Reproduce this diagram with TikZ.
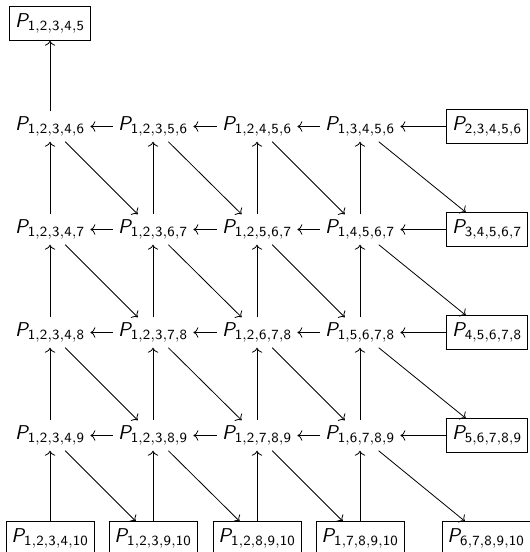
\documentclass[tikz,border=0pt]{standalone}
\usepackage{amsmath,amssymb}
\usepackage{tikz}
\usetikzlibrary{arrows.meta}

% sans slanted P with sans index list
\newcommand{\Pidx}[1]{$\text{\sffamily\slshape P}_{\mathsf{#1}}$}

\begin{document}
\begin{tikzpicture}[x=1pt, y=1pt, >={Computer Modern Rightarrow},
    every node/.style={inner sep=2.5pt},
    box/.style={draw, inner xsep=2.6pt, inner ysep=3.5pt}]
    \useasboundingbox (0,0) rectangle (265,-276);

    % Top node
    \node[box] (P12345) at (25,-11.75) {\Pidx{1,2,3,4,5}};

    % Row 1
    \node (P12346) at (25,-63.25) {\Pidx{1,2,3,4,6}};
    \node (P12356) at (76.5,-63.25) {\Pidx{1,2,3,5,6}};
    \node (P12456) at (128.5,-63.25) {\Pidx{1,2,4,5,6}};
    \node (P13456) at (180,-63.25) {\Pidx{1,3,4,5,6}};
    \node[box] (P23456) at (243.5,-63.25) {\Pidx{2,3,4,5,6}};

    % Row 2
    \node (P12347) at (25,-114.75) {\Pidx{1,2,3,4,7}};
    \node (P12367) at (76.5,-114.75) {\Pidx{1,2,3,6,7}};
    \node (P12567) at (128.5,-114.75) {\Pidx{1,2,5,6,7}};
    \node (P14567) at (180,-114.75) {\Pidx{1,4,5,6,7}};
    \node[box] (P34567) at (243.5,-114.75) {\Pidx{3,4,5,6,7}};

    % Row 3
    \node (P12348) at (25,-166.25) {\Pidx{1,2,3,4,8}};
    \node (P12378) at (76.5,-166.25) {\Pidx{1,2,3,7,8}};
    \node (P12678) at (128.5,-166.25) {\Pidx{1,2,6,7,8}};
    \node (P15678) at (180,-166.25) {\Pidx{1,5,6,7,8}};
    \node[box] (P45678) at (243.5,-166.25) {\Pidx{4,5,6,7,8}};

    % Row 4
    \node (P12349) at (25,-217.75) {\Pidx{1,2,3,4,9}};
    \node (P12389) at (76.5,-217.75) {\Pidx{1,2,3,8,9}};
    \node (P12789) at (128.5,-217.75) {\Pidx{1,2,7,8,9}};
    \node (P16789) at (180,-217.75) {\Pidx{1,6,7,8,9}};
    \node[box] (P56789) at (243.5,-217.75) {\Pidx{5,6,7,8,9}};

    % Bottom row
    \node[box] (P123410) at (25,-269.25) {\Pidx{1,2,3,4,10}};
    \node[box] (P123910) at (76.5,-269.25) {\Pidx{1,2,3,9,10}};
    \node[box] (P128910) at (128.5,-269.25) {\Pidx{1,2,8,9,10}};
    \node[box] (P178910) at (180,-269.25) {\Pidx{1,7,8,9,10}};
    \node[box] (P678910) at (243,-269.25) {\Pidx{6,7,8,9,10}};

    % Vertical arrows
    \draw[->] (P12346) -- (P12345);
    \draw[->] (P12347) -- (P12346);
    \draw[->] (P12367) -- (P12356);
    \draw[->] (P12567) -- (P12456);
    \draw[->] (P14567) -- (P13456);
    \draw[->] (P12348) -- (P12347);
    \draw[->] (P12378) -- (P12367);
    \draw[->] (P12678) -- (P12567);
    \draw[->] (P15678) -- (P14567);
    \draw[->] (P12349) -- (P12348);
    \draw[->] (P12389) -- (P12378);
    \draw[->] (P12789) -- (P12678);
    \draw[->] (P16789) -- (P15678);
    \draw[->] (P123410) -- (P12349);
    \draw[->] (P123910) -- (P12389);
    \draw[->] (P128910) -- (P12789);
    \draw[->] (P178910) -- (P16789);

    % Horizontal arrows
    \draw[->] (P12356) -- (P12346);
    \draw[->] (P12456) -- (P12356);
    \draw[->] (P13456) -- (P12456);
    \draw[->] (P23456) -- (P13456);
    \draw[->] (P12367) -- (P12347);
    \draw[->] (P12567) -- (P12367);
    \draw[->] (P14567) -- (P12567);
    \draw[->] (P34567) -- (P14567);
    \draw[->] (P12378) -- (P12348);
    \draw[->] (P12678) -- (P12378);
    \draw[->] (P15678) -- (P12678);
    \draw[->] (P45678) -- (P15678);
    \draw[->] (P12389) -- (P12349);
    \draw[->] (P12789) -- (P12389);
    \draw[->] (P16789) -- (P12789);
    \draw[->] (P56789) -- (P16789);

    % Diagonal arrows
    \draw[->] (P12346) -- (P12367);
    \draw[->] (P12356) -- (P12567);
    \draw[->] (P12456) -- (P14567);
    \draw[->] (P13456) -- (P34567);
    \draw[->] (P12347) -- (P12378);
    \draw[->] (P12367) -- (P12678);
    \draw[->] (P12567) -- (P15678);
    \draw[->] (P14567) -- (P45678);
    \draw[->] (P12348) -- (P12389);
    \draw[->] (P12378) -- (P12789);
    \draw[->] (P12678) -- (P16789);
    \draw[->] (P15678) -- (P56789);
    \draw[->] (P12349) -- (P123910);
    \draw[->] (P12389) -- (P128910);
    \draw[->] (P12789) -- (P178910);
    \draw[->] (P16789) -- (P678910);
\end{tikzpicture}
\end{document}
